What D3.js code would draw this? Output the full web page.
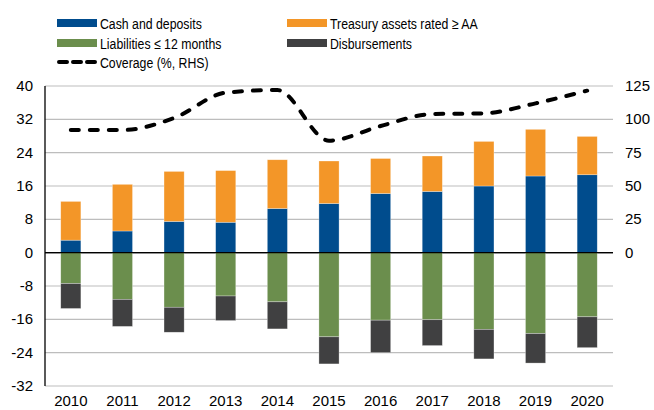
<!DOCTYPE html>
<html>
<head>
<meta charset="utf-8">
<script src="https://cdn.jsdelivr.net/npm/d3@7"></script>
<style>
  body { margin: 0; background: #fff; }
  text { font-family: "Liberation Sans", Arial, sans-serif; fill: #000; }
</style>
</head>
<body>
<svg width="654" height="410"></svg>
<script>
const years = ['2010','2011','2012','2013','2014','2015','2016','2017','2018','2019','2020'];
const cash = [3.0, 5.2, 7.5, 7.3, 10.6, 11.8, 14.2, 14.7, 16.0, 18.4, 18.7];
const treasury = [9.3, 11.2, 12.0, 12.4, 11.7, 10.2, 8.4, 8.5, 10.7, 11.2, 9.2];
const liabilities = [-7.4, -11.2, -13.1, -10.4, -11.8, -20.2, -16.2, -16.1, -18.4, -19.4, -15.4];
const disbursements = [-6.0, -6.5, -6.0, -5.9, -6.5, -6.5, -7.8, -6.2, -7.1, -7.1, -7.4];
const coverage = [92, 92, 101, 120, 122, 84, 95, 104, 104.5, 112, 121.5];

const leftTicks = [40, 32, 24, 16, 8, 0, -8, -16, -24, -32];
const rightTicks = [0, 25, 50, 75, 100, 125];

const colors = {
  cash: '#004C8D',
  treasury: '#F39628',
  liabilities: '#6B8E4D',
  disbursements: '#404041'
};

let svg = d3.select('svg');

const plotLeft = 45, plotRight = 613, plotTop = 86, plotBottom = 386;

let x = d3.scaleBand().domain(years).range([plotLeft, plotRight]).paddingInner(0.61).paddingOuter(0.305);
let y = d3.scaleLinear().domain([-32, 40]).range([plotBottom, plotTop]);
// RHS shares the zero line: 125 sits on 40
let y2 = d3.scaleLinear().domain([-100, 125]).range([plotBottom, plotTop]);

// gridlines
svg.append('g').selectAll('line').data(leftTicks).enter()
    .append('line')
    .attr('x1', plotLeft).attr('x2', plotRight)
    .attr('y1', d => y(d)).attr('y2', d => y(d))
    .attr('stroke', d => d === 0 ? '#000' : '#bdbdbd')
    .attr('stroke-width', d => d === 0 ? 1.3 : 1.2);

// stacked bars
let rows = years.map((yr, i) => ({ yr, cash: cash[i], treasury: treasury[i], liabilities: liabilities[i], disbursements: disbursements[i] }));
let stack = d3.stack()
    .keys(['cash', 'treasury', 'liabilities', 'disbursements'])
    .offset(d3.stackOffsetDiverging);
let series = stack(rows);

svg.append('g').selectAll('g').data(series).enter()
    .append('g')
    .attr('fill', s => colors[s.key])
    .selectAll('rect').data(s => s).enter()
    .append('rect')
    .attr('x', d => x(d.data.yr))
    .attr('width', x.bandwidth())
    .attr('y', d => y(Math.max(d[0], d[1])))
    .attr('height', d => Math.abs(y(d[0]) - y(d[1])))
    .attr('stroke', '#fff')
    .attr('stroke-opacity', 0.5)
    .attr('stroke-width', 0.6);

// zero line on top of bars
svg.append('line')
    .attr('x1', plotLeft).attr('x2', plotRight)
    .attr('y1', y(0)).attr('y2', y(0))
    .attr('stroke', '#000').attr('stroke-width', 1.3);

// left axis line
svg.append('line')
    .attr('x1', plotLeft).attr('x2', plotLeft)
    .attr('y1', plotTop).attr('y2', plotBottom)
    .attr('stroke', '#000').attr('stroke-width', 1.3);

// coverage line
let line = d3.line()
    .x((d, i) => x(years[i]) + x.bandwidth() / 2)
    .y(d => y2(d))
    .curve(d3.curveMonotoneX);

svg.append('path')
    .datum(coverage)
    .attr('d', line)
    .attr('fill', 'none')
    .attr('stroke', '#000')
    .attr('stroke-width', 4)
    .attr('stroke-linecap', 'round')
    .attr('stroke-dasharray', '8,11');

// left tick labels
svg.append('g').selectAll('text').data(leftTicks).enter()
    .append('text')
    .attr('x', 33)
    .attr('y', d => y(d) + 5)
    .attr('text-anchor', 'end')
    .attr('font-size', 15)
    .text(d => d);

// right tick labels
svg.append('g').selectAll('text').data(rightTicks).enter()
    .append('text')
    .attr('x', 625)
    .attr('y', d => y2(d) + 5)
    .attr('font-size', 15)
    .text(d => d);

// year labels
svg.append('g').selectAll('text').data(years).enter()
    .append('text')
    .attr('x', d => x(d) + x.bandwidth() / 2)
    .attr('y', 406)
    .attr('text-anchor', 'middle')
    .attr('font-size', 15)
    .text(d => d);

// legend
const legendItems = [
  { label: 'Cash and deposits', color: colors.cash, col: 0, row: 0 },
  { label: 'Treasury assets rated \u2265 AA', color: colors.treasury, col: 1, row: 0 },
  { label: 'Liabilities \u2264 12 months', color: colors.liabilities, col: 0, row: 1 },
  { label: 'Disbursements', color: colors.disbursements, col: 1, row: 1 }
];
const colX = [57, 287];
const rowY = [23, 43, 62];

let legend = svg.append('g').attr('class', 'legend');
let li = legend.selectAll('g').data(legendItems).enter()
    .append('g')
    .attr('transform', d => `translate(${colX[d.col]},${rowY[d.row]})`);
li.append('rect')
    .attr('x', 0).attr('y', -4)
    .attr('width', 40).attr('height', 8)
    .attr('fill', d => d.color);
// narrow face: squeeze the text horizontally
li.append('text')
    .attr('transform', 'translate(43,5.5) scale(0.82,1)')
    .attr('font-size', 15)
    .text(d => d.label);

let cov = legend.append('g').attr('transform', `translate(${colX[0]},${rowY[2]})`);
cov.append('line')
    .attr('x1', 2).attr('x2', 38)
    .attr('y1', 0).attr('y2', 0)
    .attr('stroke', '#000').attr('stroke-width', 4)
    .attr('stroke-linecap', 'round')
    .attr('stroke-dasharray', '8,6');
cov.append('text')
    .attr('transform', 'translate(43,5.5) scale(0.82,1)')
    .attr('font-size', 15)
    .text('Coverage (%, RHS)');
</script>
</body>
</html>
